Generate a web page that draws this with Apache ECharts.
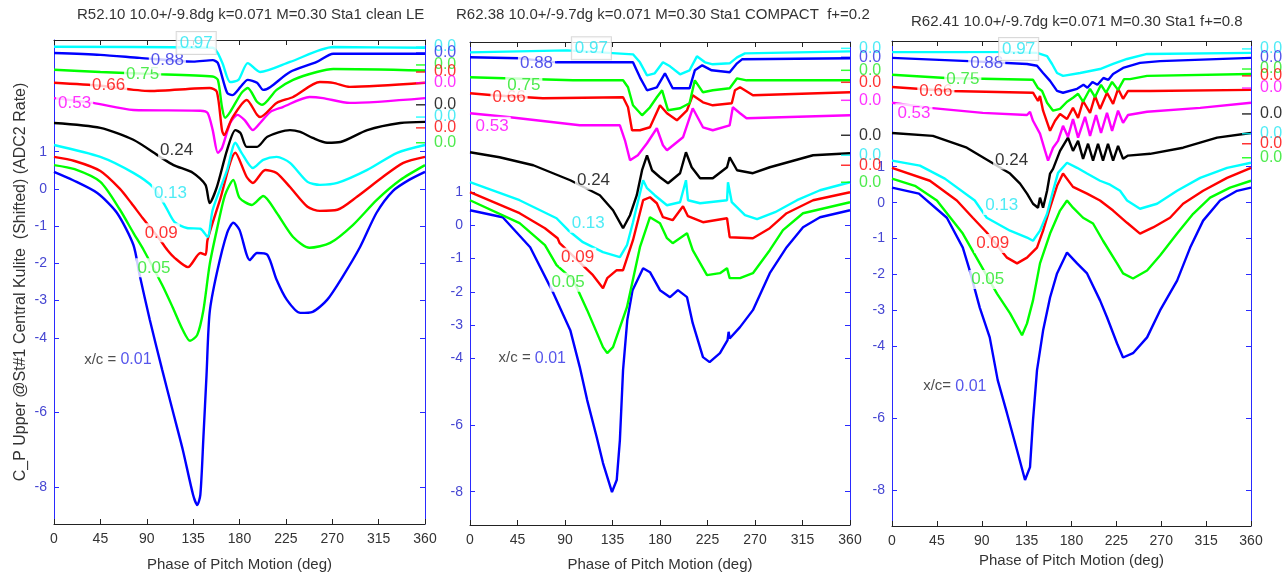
<!DOCTYPE html>
<html><head><meta charset="utf-8">
<script src="https://cdn.jsdelivr.net/npm/echarts@6/dist/echarts.min.js"></script>
<style>html,body{margin:0;padding:0;background:#fff}#c{width:1286px;height:577px}</style>
</head><body><div id="c"></div>
<script>
// ---------- DATA ----------
const xcLabels = ['0.01','0.05','0.09','0.13','0.24','0.53','0.66','0.75','0.88','0.97'];
const titles = ['R52.10 10.0+/-9.8dg k=0.071 M=0.30 Sta1 clean LE',
                'R62.38 10.0+/-9.7dg k=0.071 M=0.30 Sta1 COMPACT  f+=0.2',
                'R62.41 10.0+/-9.7dg k=0.071 M=0.30 Sta1 f+=0.8'];
const xTickStep = 45;
const yTickValues = [-8,-6,-4,-3,-2,-1,0,1];
const yRanges = [[-9,4],[-9,5.5],[-9,4.5]];

// Panel 1 (R52.10) curves: [phase deg, shifted Cp]
const p1_001 = [[0,0.46],[18,0.24],[42,-0.11],[61,-0.64],[77,-1.5],[83,-2.3],[93,-3.52],[105,-4.86],[115,-5.94],[125,-7.01],[135,-8.22],[139,-8.49],[142,-8.22],[145,-6.66],[148,-5.0],[151,-3.33],[158,-2.26],[168,-1.18],[174,-0.91],[180,-1.1],[190,-1.91],[197,-1.72],[207,-1.77],[216,-2.44],[226,-2.98],[239,-3.33],[251,-3.3],[265,-2.98],[280,-2.36],[297,-1.56],[313,-0.64],[329,-0.05],[345,0.25],[360,0.46]];
const p1_005 = [[0,0.64],[20,0.53],[45,0.19],[64,-0.56],[77,-1.18],[87,-1.64],[105,-2.58],[115,-3.17],[125,-3.79],[132,-4.08],[139,-3.92],[145,-3.25],[151,-2.04],[158,-1.1],[166,-0.16],[174,0.24],[180,-0.24],[192,-0.43],[203,-0.19],[216,-0.64],[232,-1.29],[248,-1.58],[268,-1.45],[290,-0.97],[313,-0.3],[336,0.24],[360,0.64]];
const p1_009 = [[0,0.86],[20,0.75],[45,0.48],[64,0.0],[75,-0.38],[86,-0.78],[103,-1.37],[110,-1.64],[117,-1.85],[130,-2.1],[142,-1.72],[147,-1.77],[149,-1.37],[161,-0.3],[176,0.97],[187,0.32],[193,0.16],[205,0.51],[216,0.43],[229,0.05],[246,-0.48],[258,-0.59],[275,-0.56],[294,-0.21],[319,0.32],[339,0.7],[360,0.86]];
const p1_013 = [[0,1.18],[45,0.86],[77,0.43],[96,0.05],[108,-0.46],[117,-0.89],[129,-1.05],[142,-1.07],[149,-1.29],[154,-0.56],[168,0.51],[176,1.24],[182,0.97],[193,0.56],[203,0.78],[216,0.86],[229,0.7],[246,0.19],[258,0.11],[275,0.16],[304,0.51],[333,0.97],[360,1.18]];
const p1_024 = [[0,1.77],[45,1.64],[77,1.32],[103,0.86],[116,0.64],[135,0.43],[147,0.11],[151,-0.38],[158,0.05],[168,1.05],[176,1.58],[181,1.5],[187,1.13],[197,1.13],[207,1.4],[229,1.58],[239,1.53],[251,1.37],[265,1.24],[278,1.26],[304,1.58],[336,1.77],[360,1.8]];
const p1_053 = [[0,2.44],[38,2.31],[77,2.12],[142,2.1],[149,2.04],[154,1.58],[159,0.97],[163,1.1],[171,1.77],[178,1.99],[185,1.85],[193,1.58],[200,1.77],[210,2.07],[222,2.2],[248,2.47],[261,2.44],[287,2.31],[360,2.44]];
const p1_066 = [[0,2.85],[45,2.77],[93,2.63],[151,2.71],[158,2.61],[163,1.58],[165,1.45],[173,1.91],[187,2.39],[197,1.99],[200,1.93],[216,2.31],[232,2.47],[258,2.87],[271,2.85],[287,2.74],[360,2.85]];
const p1_075 = [[0,3.2],[45,3.14],[93,3.09],[154,3.02],[159,2.93],[163,2.2],[166,1.91],[171,2.07],[182,2.58],[188,2.71],[197,2.34],[202,2.26],[216,2.66],[232,2.93],[255,3.14],[271,3.22],[360,3.18]];
const p1_088 = [[0,3.65],[45,3.6],[83,3.52],[135,3.42],[154,3.46],[159,3.38],[168,2.58],[173,2.52],[181,2.74],[188,2.93],[197,2.85],[203,2.66],[210,2.74],[229,3.14],[255,3.41],[271,3.63],[360,3.63]];
const p1_097 = [[0,3.82],[154,3.79],[163,3.41],[171,2.87],[179,2.93],[188,3.38],[200,3.14],[229,3.41],[271,3.81],[360,3.79]];

// Panel 2 (R62.38)
const p2_001 = [[0,0.45],[31,0.24],[57,-0.66],[79,-2.04],[95,-3.15],[104,-4.26],[111,-5.25],[120,-6.36],[126,-7.14],[134.5,-8.01],[139,-7.65],[142,-6.45],[145,-4.35],[149,-2.85],[154,-1.95],[164,-1.29],[170.5,-1.41],[180,-1.95],[189.5,-2.16],[197,-1.95],[205.6,-2.16],[211,-2.94],[220.7,-3.96],[227,-4.11],[236.8,-3.84],[244,-3.45],[245,-3.2],[246,-3.4],[255.8,-3.06],[268,-2.55],[284,-1.44],[300,-0.66],[315.5,-0.06],[331.6,0.24],[360,0.45]];
const p2_005 = [[0,0.75],[47,0.06],[71,-0.6],[82,-1.2],[98,-1.65],[111,-2.55],[126,-3.66],[130,-3.84],[135.5,-3.66],[148.7,-2.46],[161,-0.66],[170.5,0.24],[180,0.06],[186.6,-0.39],[192,-0.54],[205.6,-0.24],[211,-0.75],[224.5,-1.5],[236.8,-1.44],[243.5,-1.29],[246,-1.59],[255.8,-1.59],[268,-1.44],[284,-0.75],[296.5,-0.15],[315.5,0.36],[360,0.69]];
const p2_009 = [[0,0.99],[47,0.36],[71,-0.09],[83,-0.39],[85,-0.54],[116.5,-1.5],[126,-1.89],[130,-1.59],[139,-1.35],[145,-1.35],[154.4,-0.45],[164,0.75],[170.5,0.84],[177,0.66],[182.8,0.24],[192,0.15],[201.8,0.57],[206.5,0.27],[220.7,0.09],[243.5,0.21],[246,-0.36],[268,-0.39],[284,-0.09],[300,0.36],[325,0.75],[360,0.99]];
const p2_013 = [[0,1.29],[47,0.75],[82,0.21],[93,-0.15],[107,-0.51],[126,-0.81],[142,-0.96],[148.7,-0.6],[154.4,0.09],[164,1.35],[167.7,1.11],[175,0.9],[186.6,0.6],[199,0.69],[204.6,1.35],[206.5,0.75],[218,0.66],[243.5,0.75],[244.4,1.29],[248,0.69],[260.5,0.3],[272,0.18],[289,0.39],[309.8,0.75],[331.6,1.05],[360,1.29]];
const p2_024 = [[0,2.19],[28,2.04],[60,1.8],[95,1.35],[123,0.9],[135.5,0.45],[145,-0.09],[151.6,0.3],[158,0.9],[163,1.65],[167.7,2.1],[172.4,1.65],[180,1.44],[187.6,1.26],[199,1.56],[204.6,2.19],[210,1.74],[218,1.41],[230,1.41],[243.5,1.74],[246,2.04],[253,1.65],[268,1.56],[284,1.74],[325,2.1],[360,2.16]];
const p2_053 = [[0,3.36],[38,3.24],[104,3.0],[142,3.0],[146.8,2.55],[151.6,1.95],[159,2.1],[167.7,2.46],[177,2.91],[182.8,2.4],[186.6,2.25],[201.8,2.64],[211,3.51],[220.7,2.94],[230,2.85],[246,3.0],[249,3.54],[255.8,3.36],[262,3.21],[360,3.3]];
const p2_066 = [[0,3.96],[22,3.9],[69,3.81],[145,3.84],[149.7,3.54],[153.5,2.85],[161,2.85],[170.5,2.94],[180,3.6],[186.6,3.36],[196,3.15],[205.6,3.45],[211,3.9],[220.7,3.69],[230,3.6],[248,3.66],[251,4.05],[255.8,4.14],[268,3.9],[360,3.99]];
const p2_075 = [[0,4.44],[97.6,4.35],[145,4.35],[149.7,4.14],[154.4,3.6],[163,3.3],[170.5,3.54],[177,3.84],[182,4.05],[187.6,3.45],[199,3.51],[208,3.66],[213,4.35],[220.7,3.99],[230,4.05],[246,4.11],[253,4.41],[262,4.35],[360,4.35]];
const p2_088 = [[0,5.04],[47,5.01],[82,4.89],[154.4,4.89],[161,4.44],[167.7,4.05],[177,4.14],[184.7,4.56],[192,4.11],[208,4.11],[213,4.65],[220,4.8],[229,4.65],[246,4.59],[253,4.86],[257.7,4.98],[360,5.01]];
const p2_097 = [[0,5.19],[92,5.25],[154.4,5.13],[161,4.89],[167.7,4.5],[175,4.56],[182.8,4.89],[189.5,4.77],[199,4.53],[208,4.65],[215,5.07],[222.6,4.89],[230,4.83],[246,4.86],[253,5.04],[260.5,5.16],[360,5.22]];

// Panel 3 (R62.41)
const p3_001 = [[0,0.42],[27,0.25],[55,-0.42],[71,-1.25],[78,-1.89],[88,-2.92],[98,-3.75],[106,-4.94],[115.3,-5.86],[125.4,-6.89],[133.4,-7.72],[138.4,-7.36],[141.4,-6.06],[145.4,-4.67],[151.5,-3.56],[158.5,-2.64],[165.5,-1.97],[175.5,-1.39],[185.6,-1.69],[195.6,-1.97],[208.6,-2.72],[215.6,-3.19],[225.7,-3.92],[231.7,-4.31],[241.7,-4.19],[255.8,-3.75],[268.8,-3.0],[285.9,-2.17],[299,-1.25],[312,-0.5],[329,0.06],[346,0.33],[360,0.42]];
const p3_005 = [[0,0.67],[23,0.47],[45,0.06],[71,-0.86],[88,-1.69],[105.3,-2.53],[118.4,-3.08],[130.4,-3.69],[135.4,-3.36],[141.4,-2.72],[148.4,-1.69],[158.5,-0.86],[168.5,-0.22],[175.5,0.06],[181.5,-0.14],[191.6,-0.42],[201.6,-0.58],[211.6,-1.06],[225.7,-1.69],[231.7,-1.97],[241.7,-2.11],[255.8,-1.89],[268.8,-1.47],[285.9,-0.86],[302,-0.31],[319,0.14],[339,0.42],[360,0.61]];
const p3_009 = [[0,0.97],[38,0.61],[65,0.06],[81,-0.42],[95,-0.83],[115.3,-1.53],[125.4,-1.69],[135.4,-1.53],[145.4,-1.25],[151.5,-0.78],[158.5,-0.14],[165.5,0.47],[171.5,0.81],[181.5,0.44],[195.6,0.25],[208.6,0.06],[221.7,-0.22],[235.7,-0.56],[248.7,-0.86],[261.8,-0.69],[278.8,-0.42],[291.9,-0.03],[312,0.33],[336,0.69],[360,0.97]];
const p3_013 = [[0,1.17],[28,1.03],[53,0.67],[83,0.06],[95,-0.42],[118.4,-0.78],[135.4,-0.97],[141.4,-1.06],[148.4,-0.78],[155.5,-0.31],[161.5,0.33],[166.5,0.83],[175.5,1.11],[185.6,0.97],[195.6,0.81],[208.6,0.61],[218.7,0.5],[228.7,0.33],[235.7,0.06],[248.7,-0.17],[265.8,-0.03],[285.9,0.33],[309,0.69],[336,0.97],[360,1.11]];
const p3_024 = [[0,1.94],[41,1.86],[75,1.53],[105.3,1.03],[118.4,0.81],[128.4,0.53],[135.4,0.25],[141.4,-0.03],[146.4,-0.14],[148.4,0.14],[151.5,-0.14],[155.5,0.33],[158.5,0.81],[161.5,0.94],[168.5,1.44],[176.5,1.81],[181.5,1.44],[186.6,1.72],[191.6,1.22],[196.6,1.64],[201.6,1.17],[206.6,1.64],[211.6,1.17],[216.6,1.64],[221.7,1.17],[226.7,1.58],[231.7,1.22],[236.7,1.31],[258.8,1.36],[291.9,1.53],[326,1.81],[360,1.94]];
const p3_053 = [[0,2.78],[38,2.64],[91,2.5],[135.4,2.44],[138.4,2.53],[141.4,2.28],[148.4,1.92],[153.5,1.44],[156.5,1.17],[161.5,1.53],[166.5,1.72],[171.5,2.14],[176.5,1.83],[181.5,2.33],[186.6,1.81],[193.6,2.39],[198.6,1.86],[204.6,2.44],[209.6,1.94],[215.6,2.5],[220.7,2.0],[226.7,2.56],[231.7,2.22],[236.7,2.44],[255.8,2.53],[309,2.64],[360,2.78]];
const p3_066 = [[0,3.22],[58,3.11],[141.4,3.06],[146.4,2.83],[148.4,2.97],[151.5,2.56],[158.5,2.0],[163.5,2.28],[168.5,2.47],[175.5,2.33],[181.5,2.64],[186.6,2.36],[191.6,2.83],[198.6,2.5],[203.6,2.97],[208.6,2.61],[215.6,3.06],[221.7,2.75],[226.7,3.17],[231.7,2.89],[236.7,3.11],[258.8,3.11],[360,3.14]];
const p3_075 = [[0,3.56],[54,3.47],[141.4,3.42],[146.4,3.19],[150.5,3.11],[155.5,2.78],[161.5,2.56],[168.5,2.61],[175.5,2.81],[181.5,2.92],[186.6,3.03],[191.6,2.81],[198.6,3.17],[203.6,2.94],[209.6,3.28],[214.6,3.06],[220.7,3.36],[226.7,3.14],[232.7,3.44],[238.7,3.44],[255.8,3.53],[360,3.58]];
const p3_088 = [[0,4.03],[77,3.94],[135.4,3.86],[145.4,3.81],[151.5,3.61],[158.5,3.39],[165.5,3.11],[171.5,3.06],[185.6,3.17],[192,3.28],[196,3.2],[201,3.36],[206,3.28],[212,3.47],[217,3.42],[221.7,3.58],[231.7,3.75],[248.7,3.89],[268.8,3.94],[360,4.03]];
const p3_097 = [[0,4.19],[111,4.19],[145.4,4.17],[155.5,4.08],[160.5,3.86],[165.5,3.61],[171.5,3.53],[188.6,3.61],[208.6,3.72],[221.7,3.86],[235.7,4.0],[255.8,4.14],[360,4.17]];

// right-edge "0.0" reference marks (shift value of each curve's zero)
const zeroMarks1 = [3.81,3.65,3.33,3.14,2.85,2.26,1.93,1.64,1.24];
const zeroMarks2 = [5.31,5.04,4.65,4.29,3.75,2.70,2.10,1.80,1.29];
const zeroMarks3 = [4.28,4.03,3.72,3.53,3.19,2.47,1.92,1.64,1.25];
const zeroMarkOrder = ['0.97','0.88','0.75','0.66','0.53','0.24','0.13','0.09','0.05'];

// in-plot x/c label anchors [phase, value]
const labelPos1 = {'0.97':[138,3.92],'0.88':[110,3.46],'0.75':[86,3.09],'0.66':[53,2.77],'0.53':[20,2.31],'0.24':[119,1.05],'0.13':[113,-0.11],'0.09':[104,-1.18],'0.05':[97,-2.12],'0.01':[62,-4.59]};
const labelPos2 = {'0.97':[115,5.31],'0.88':[63,4.86],'0.75':[51,4.2],'0.66':[37,3.84],'0.53':[21,2.97],'0.24':[117,1.35],'0.13':[112,0.06],'0.09':[102,-0.96],'0.05':[93,-1.71],'0.01':[59,-3.99]};
const labelPos3 = {'0.97':[127,4.28],'0.88':[95,3.89],'0.75':[71,3.44],'0.66':[44,3.11],'0.53':[22,2.5],'0.24':[120,1.19],'0.13':[110,-0.08],'0.09':[101,-1.14],'0.05':[96,-2.14],'0.01':[63,-5.11]};
const xcPrefix = ['x/c = ', 'x/c = ', 'x/c= '];

// ---------- STYLE / LAYOUT ----------
const colorOf = {'0.01':'#0000ff','0.05':'#00ff00','0.09':'#ff0000','0.13':'#00ffff','0.24':'#000000',
                 '0.53':'#ff00ff','0.66':'#ff0000','0.75':'#00ff00','0.88':'#0000ff','0.97':'#00ffff'};
const textColorOf = Object.assign({}, colorOf, {'0.13':'#22e6f2','0.97':'#22e6f2','0.05':'#22e622','0.75':'#22e622','0.88':'#2a2ae6','0.01':'#2a2ae6'});
const grids = [
  {left:54, top:40, width:371, height:484},
  {left:470, top:42, width:380, height:484},
  {left:892, top:41, width:359, height:485}
];
const titlePos = [[77,7],[456,7],[911,14]];
const xNameGap = [33,32,23];
const smoothing = [0.25, 0, 0];
const FONT = 'Arial, "Liberation Sans", sans-serif';
const AXBLUE = '#2a2aff';

const panels = [
  {curves:[p1_001,p1_005,p1_009,p1_013,p1_024,p1_053,p1_066,p1_075,p1_088,p1_097], zero:zeroMarks1, lab:labelPos1},
  {curves:[p2_001,p2_005,p2_009,p2_013,p2_024,p2_053,p2_066,p2_075,p2_088,p2_097], zero:zeroMarks2, lab:labelPos2},
  {curves:[p3_001,p3_005,p3_009,p3_013,p3_024,p3_053,p3_066,p3_075,p3_088,p3_097], zero:zeroMarks3, lab:labelPos3}
];

const xAxis = [], yAxis = [], series = [];
panels.forEach((p, i) => {
  xAxis.push({gridIndex:i, type:'value', min:0, max:360, interval:xTickStep, position:'bottom',
    axisLine:{show:true, onZero:false, lineStyle:{color:'#222', width:1}},
    axisTick:{show:true, inside:true, length:5, lineStyle:{color:'#222'}},
    axisLabel:{color:'#333', fontSize:14, margin:8, fontFamily:FONT},
    splitLine:{show:false},
    name:'Phase of Pitch Motion (deg)', nameLocation:'middle', nameGap:xNameGap[i],
    nameTextStyle:{color:'#333', fontSize:15, fontFamily:FONT}});
  yAxis.push({gridIndex:i, type:'value', min:yRanges[i][0], max:yRanges[i][1], position:'left',
    axisLine:{show:true, onZero:false, lineStyle:{color:AXBLUE, width:1}},
    axisTick:{show:true, inside:true, length:5, customValues:yTickValues, lineStyle:{color:AXBLUE}},
    axisLabel:{customValues:yTickValues, color:'#4646d2', fontSize:14, margin:7, fontFamily:FONT},
    splitLine:{show:false},
    name: i === 0 ? 'C_P Upper @St#1 Central Kulite  (Shifted) (ADC2 Rate)' : '',
    nameLocation:'middle', nameGap:25, nameRotate:90,
    nameTextStyle:{color:'#333', fontSize:16, fontFamily:FONT}});
});
panels.forEach((p, i) => {
  xAxis.push({gridIndex:i, type:'value', min:0, max:360, interval:xTickStep, position:'top',
    axisLine:{show:true, onZero:false, lineStyle:{color:'#222', width:1}},
    axisTick:{show:true, inside:true, length:5, lineStyle:{color:'#222'}},
    axisLabel:{show:false}, splitLine:{show:false}});
  yAxis.push({gridIndex:i, type:'value', min:yRanges[i][0], max:yRanges[i][1], position:'right',
    axisLine:{show:true, onZero:false, lineStyle:{color:AXBLUE, width:1}},
    axisTick:{show:true, inside:true, length:5, customValues:yTickValues, lineStyle:{color:AXBLUE}},
    axisLabel:{show:false}, splitLine:{show:false}});
});

panels.forEach((p, i) => {
  p.curves.forEach((d, j) => {
    series.push({type:'line', xAxisIndex:i, yAxisIndex:i, data:d, showSymbol:false, symbol:'none',
      smooth:smoothing[i],
      lineStyle:{width:2.4, color:colorOf[xcLabels[j]]}, z:2, silent:true, animation:false});
  });
  // in-plot x/c labels
  const ann = xcLabels.map(k => {
    const pos = p.lab[k];
    const base = {value:pos};
    if (k === '0.01') {
      base.label = {show:true, position:'inside', formatter:'{a|' + xcPrefix[i] + '}{b|0.01}',
        backgroundColor:'#fff', padding:[2,3],
        rich:{a:{color:'#222', fontSize:15, fontFamily:FONT}, b:{color:textColorOf[k], fontSize:16, fontFamily:FONT}}};
    } else if (k === '0.97') {
      base.label = {show:true, position:'inside', formatter:k, color:textColorOf[k], fontSize:17, fontFamily:FONT,
        backgroundColor:'#fff', borderColor:'#cfcfcf', borderWidth:1, padding:[3,3,2,3]};
    } else {
      base.label = {show:true, position:'inside', formatter:k, color:textColorOf[k], fontSize:17, fontFamily:FONT,
        backgroundColor:'#fff', padding:[1,2]};
    }
    return base;
  });
  series.push({type:'scatter', xAxisIndex:i, yAxisIndex:i, symbolSize:0, data:ann, z:6, silent:true, animation:false});
  // right edge "0.0" zero marks
  series.push({type:'scatter', xAxisIndex:i, yAxisIndex:i, symbol:'rect', symbolSize:[9,1.5], symbolOffset:[-4.5,0],
    clip:false, z:4, silent:true, animation:false,
    data:p.zero.map((v, k) => ({value:[360, v], itemStyle:{color:colorOf[zeroMarkOrder[k]]},
      label:{show:true, position:'right', distance:9, formatter:'0.0', color:textColorOf[zeroMarkOrder[k]], fontSize:16, fontFamily:FONT}}))});
});

const chart = echarts.init(document.getElementById('c'), null, {renderer:'canvas'});
chart.setOption({
  backgroundColor:'#fff',
  animation:false,
  textStyle:{fontFamily:FONT},
  title: titles.map((t, i) => ({text:t, left:titlePos[i][0], top:titlePos[i][1], padding:0,
    textStyle:{fontSize:15, fontWeight:'normal', color:'#333', fontFamily:FONT}})),
  grid: grids.map(g => Object.assign({containLabel:false}, g)),
  xAxis, yAxis, series
});
</script></body></html>
